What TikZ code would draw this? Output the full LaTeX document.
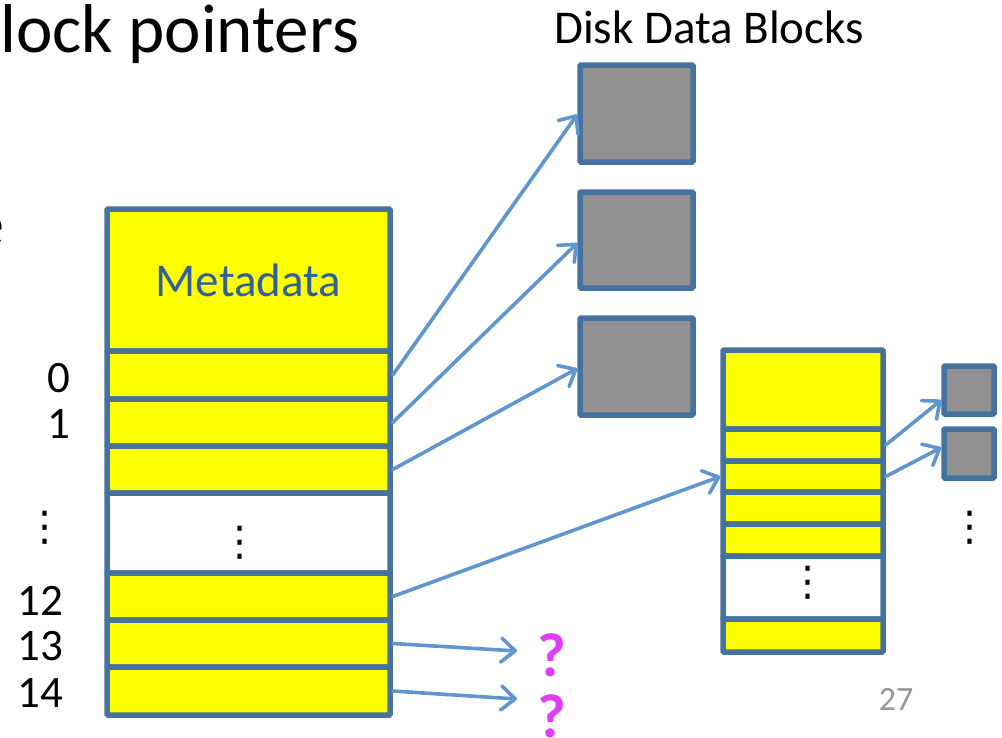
\documentclass[tikz,border=0pt]{standalone}
\usepackage{fontspec}
\setmainfont{Carlito}
\newfontfamily\symfont{DejaVu Sans}
\usetikzlibrary{arrows.meta,calc}

\definecolor{bdr}{RGB}{70,114,160}
\definecolor{ptrc}{RGB}{95,150,205}
\definecolor{ylw}{RGB}{255,255,0}
\definecolor{gry}{RGB}{145,145,145}
\definecolor{qmark}{RGB}{222,62,250}
\definecolor{pgnum}{RGB}{150,150,150}
\definecolor{metac}{RGB}{50,96,155}

% rectangle node given by its corner coordinates: name, style, x1, y1, x2, y2
\newcommand{\blk}[6]{\node[#2, minimum width={#5-#3}, minimum height={#6-#4}] (#1) at ({(#3+#5)/2},{(#4+#6)/2}) {};}

\begin{document}
\begin{tikzpicture}[x=1pt,y=-1pt,
  box/.style={draw=bdr, line width=5.5pt, inner sep=0pt, rounded corners=1pt},
  slot/.style={box, fill=ylw},
  gap/.style={box, fill=white},
  dblock/.style={box, fill=gry},
  ptr/.style={draw=ptrc, line width=3.6pt, line cap=round,
    -{Straight Barb[length=14pt,width=24pt,round]}},
  lbl/.style={inner sep=0pt, font=\fontsize{45}{45}\selectfont},
  dts/.style={inner sep=0pt, font=\symfont\fontsize{41}{41}\selectfont},
]
\useasboundingbox (0,0) rectangle (1002,737);

% headings
\node[anchor=base west, inner sep=0pt, font=\fontsize{69}{69}\selectfont] (title) at (0,52) {lock pointers};
\node[anchor=base east, inner sep=0pt, font=\fontsize{64}{64}\selectfont] (frag) at (5,245) {e};
\node[anchor=base, inner sep=0pt, font=\fontsize{47}{47}\selectfont] (dhead) at (709,43) {Disk Data Blocks};

% inode
\node[slot, minimum width=283, minimum height=142, text=metac,
      font=\fontsize{47}{47}\selectfont] (meta) at (248.5,280) {Metadata};
\blk{r0}{slot}{107}{351}{390}{399}
\blk{r1}{slot}{107}{399}{390}{446}
\blk{r2}{slot}{107}{446}{390}{493}
\blk{rg}{gap}{107}{493}{390}{573}
\blk{r12}{slot}{107}{573}{390}{620}
\blk{r13}{slot}{107}{620}{390}{667}
\blk{r14}{slot}{107}{667}{390}{715}
\node[dts] (rgd) at (240,543) {⋮};

% pointer indices
\node[lbl, anchor=base] (l0) at (59,392) {0};
\node[lbl, anchor=base] (l1) at (59,438) {1};
\node[dts] (ld) at (45,528) {⋮};
\node[lbl, anchor=base] (l12) at (40,615) {12};
\node[lbl, anchor=base] (l13) at (40,660) {13};
\node[lbl, anchor=base] (l14) at (40,707) {14};

% direct data blocks
\blk{d1}{dblock}{580}{65}{693}{162}
\blk{d2}{dblock}{580}{192}{693}{288}
\blk{d3}{dblock}{580}{318}{693}{415}

% indirect block
\blk{itop}{slot}{723}{350}{883}{429}
\blk{ia}{slot}{723}{429}{883}{461}
\blk{ib}{slot}{723}{461}{883}{492}
\blk{ic}{slot}{723}{492}{883}{524}
\blk{id}{slot}{723}{524}{883}{556}
\blk{ig}{gap}{723}{556}{883}{619}
\blk{il}{slot}{723}{619}{883}{652}
\node[dts] (igd) at (808,583) {⋮};

% blocks reached through the indirect block
\blk{s1}{dblock}{944}{366}{994}{414}
\blk{s2}{dblock}{944}{429}{994}{478}
\node[dts] (sd) at (970,528) {⋮};

% unresolved pointers
\node[anchor=base, inner sep=0pt, text=qmark, font=\fontsize{62}{62}\selectfont\bfseries] (q1) at (552,676) {?};
\node[anchor=base, inner sep=0pt, text=qmark, font=\fontsize{62}{62}\selectfont\bfseries] (q2) at (552,737) {?};
\coordinate (t13) at (517,651);
\coordinate (t14) at (517,699);

% page number
\node[anchor=base, inner sep=0pt, text=pgnum, font=\fontsize{34}{34}\selectfont] (pg) at (896,710) {27};

% pointers
\draw[ptr] (r0.east) -- ($(d1.west)+(0,1)$);
\draw[ptr] (r1.east) -- ($(d2.west)+(0,3)$);
\draw[ptr] (r2.east) -- ($(d3.west)+(0,2)$);
\draw[ptr] (r12.east) -- (ib.west);
\draw[ptr] (r13.east) -- (t13);
\draw[ptr] (r14.east) -- (t14);
\draw[ptr] (ia.east) -- ($(s1.west)+(0,10)$);
\draw[ptr] (ib.east) -- ($(s2.west)+(0,-6)$);
\end{tikzpicture}
\end{document}
